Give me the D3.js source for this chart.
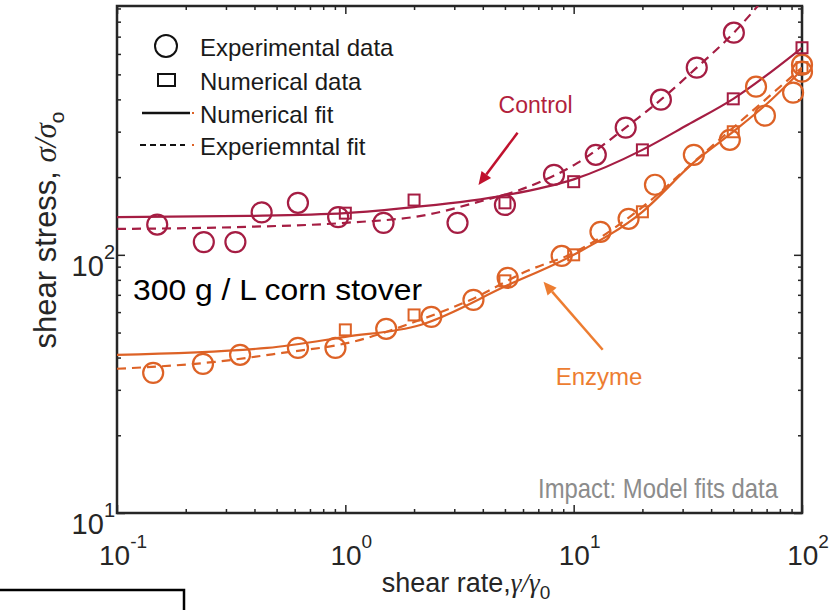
<!DOCTYPE html>
<html>
<head>
<meta charset="utf-8">
<script src="https://cdn.jsdelivr.net/npm/d3@7"></script>
<style>
  body { margin: 0; background: #fff; }
  text { font-family: "Liberation Sans", Arial, sans-serif; }
</style>
</head>
<body>
<svg id="chart" width="837" height="610"></svg>
<script>
// Control: experimental points, numerical points, and both fits
const controlExpRate = [0.15, 0.24, 0.33, 0.43, 0.62, 0.93, 1.47, 3.1, 5.0, 8.2, 12.5, 16.9, 24.1, 34.6, 50.3];
const controlExpStress = [131, 112, 112, 146, 159, 140, 133, 133, 156, 204, 244, 311, 399, 531, 725];
const controlNumRate = [1, 2, 5, 10, 20, 50, 100];
const controlNumStress = [145, 163, 159, 192, 255, 402, 634];
const controlNumFitRate = [0.1, 0.38, 1, 2, 5, 10, 20, 31.6, 50, 100];
const controlNumFitStress = [140, 141.5, 145, 153, 170, 196, 255, 319, 402, 634];
const controlExpFitRate = [0.1, 0.38, 1, 2.29, 3.79, 6.28, 10.4, 16.9, 24.1, 34.6, 50.3, 64.2];
const controlExpFitStress = [126, 128.4, 133, 143, 160, 183, 227, 311, 399, 531, 725, 923];

// Enzyme: experimental points, numerical points, and both fits
const enzymeExpRate = [0.144, 0.238, 0.346, 0.62, 0.905, 1.51, 2.38, 3.64, 5.14, 8.86, 13.1, 17.4, 22.7, 33.6, 48.3, 62.9, 68.8, 91.4, 100, 100];
const enzymeExpStress = [34.9, 37.8, 41.0, 43.6, 43.6, 51.7, 57.5, 66.9, 81.4, 99, 122.8, 137.9, 186.8, 244, 279, 448, 346, 425, 545, 512];
const enzymeNumRate = [1, 2, 5, 10, 20, 50, 100];
const enzymeNumStress = [51.2, 58.5, 79.3, 100, 146.8, 299.7, 531];
const enzymeNumFitRate = [0.1, 0.455, 1, 2.13, 5.1, 10, 20, 33.6, 50, 71, 100];
const enzymeNumFitStress = [41, 43.6, 48.1, 53.5, 76, 100, 146.8, 228, 300, 388, 521];
const enzymeExpFitRate = [0.1, 0.269, 0.529, 1.03, 2.13, 3.53, 6.28, 10, 20, 33.6, 50, 100];
const enzymeExpFitStress = [36.2, 38.5, 41.7, 45.6, 56, 66.9, 86.7, 101.8, 153, 229, 311, 531];

const xMajor = [0.1, 1, 10, 100];
const xMajorExp = ['-1', '0', '1', '2'];
const yMajor = [10, 100];
const yMajorExp = ['1', '2'];

const legendLabels = ['Experimental data', 'Numerical data', 'Numerical fit', 'Experiemntal fit'];

const controlColor = '#a51d43';
const enzymeColor = '#dd6226';

const margin = { top: 6, right: 35, bottom: 97, left: 117 };
const width = 837 - margin.left - margin.right;
const height = 610 - margin.top - margin.bottom;

const svg = d3.select('#chart');

const xScale = d3.scaleLog().domain([0.1, 100]).range([0, width]);
const yScale = d3.scaleLog().domain([10, 920]).range([height, 0]);

const zip = (a, b) => a.map((v, i) => [v, b[i]]);

const gSvg = svg.append('g')
  .attr('transform', `translate(${margin.left},${margin.top})`);

svg.append('defs').append('clipPath')
  .attr('id', 'plotClip')
  .append('rect')
  .attr('width', width)
  .attr('height', height);

// ticks: minor first, then major, on all four sides pointing inward
const minorX = xScale.ticks().filter(d => !xMajor.includes(d));
const minorY = yScale.ticks().filter(d => !yMajor.includes(d));

function addAxis(axis, transform) {
  const a = gSvg.append('g')
    .attr('transform', transform)
    .call(axis);
  a.select('.domain').remove();
  a.selectAll('text').remove();
  a.selectAll('line').attr('stroke', '#262626').attr('stroke-width', 1.5);
}

addAxis(d3.axisBottom(xScale).tickValues(minorX).tickSize(-4), `translate(0,${height})`);
addAxis(d3.axisBottom(xScale).tickValues(xMajor).tickSize(-8), `translate(0,${height})`);
addAxis(d3.axisTop(xScale).tickValues(minorX).tickSize(-4), 'translate(0,0)');
addAxis(d3.axisTop(xScale).tickValues(xMajor).tickSize(-8), 'translate(0,0)');
addAxis(d3.axisLeft(yScale).tickValues(minorY).tickSize(-4), 'translate(0,0)');
addAxis(d3.axisLeft(yScale).tickValues(yMajor).tickSize(-8), 'translate(0,0)');
addAxis(d3.axisRight(yScale).tickValues(minorY).tickSize(-4), `translate(${width},0)`);
addAxis(d3.axisRight(yScale).tickValues(yMajor).tickSize(-8), `translate(${width},0)`);

gSvg.append('rect')
  .attr('width', width)
  .attr('height', height)
  .attr('fill', 'none')
  .attr('stroke', '#262626')
  .attr('stroke-width', 2.5);

// tick labels with superscripts
const xLabels = gSvg.selectAll('.xlab')
  .data(xMajor)
  .join('text')
  .attr('class', 'xlab')
  .attr('x', d => xScale(d) + 6)
  .attr('y', height + 52)
  .attr('text-anchor', 'middle')
  .attr('font-size', 28)
  .attr('fill', '#262626');
xLabels.append('tspan').text('10');
xLabels.append('tspan')
  .attr('dy', -17)
  .attr('font-size', 19)
  .text((d, i) => xMajorExp[i]);

const yLabels = gSvg.selectAll('.ylab')
  .data(yMajor)
  .join('text')
  .attr('class', 'ylab')
  .attr('x', -2)
  .attr('y', d => yScale(d) + 21)
  .attr('text-anchor', 'end')
  .attr('font-size', 29)
  .attr('fill', '#262626');
yLabels.append('tspan').text('10');
yLabels.append('tspan')
  .attr('dy', -17)
  .attr('font-size', 20)
  .text((d, i) => yMajorExp[i]);

// axis titles
const xTitle = svg.append('text')
  .attr('x', 466)
  .attr('y', 592)
  .attr('text-anchor', 'middle')
  .attr('font-size', 27)
  .attr('fill', '#262626');
xTitle.append('tspan').text('shear rate,');
xTitle.append('tspan').attr('font-family', 'Liberation Serif').attr('font-style', 'italic').text('\u03b3/\u03b3');
xTitle.append('tspan').attr('font-size', 19).attr('dy', 7).text('0');

const yTitle = svg.append('text')
  .attr('transform', 'translate(56,230) rotate(-90)')
  .attr('text-anchor', 'middle')
  .attr('font-size', 31)
  .attr('fill', '#262626');
yTitle.append('tspan').text('shear stress, ');
yTitle.append('tspan').attr('font-family', 'Liberation Serif').attr('font-style', 'italic').text('\u03c3/\u03c3');
yTitle.append('tspan').attr('font-size', 21).attr('dy', 8).text('o');

// fits
const line = d3.line()
  .x(d => xScale(d[0]))
  .y(d => yScale(d[1]))
  .curve(d3.curveMonotoneX);

const plot = gSvg.append('g').attr('clip-path', 'url(#plotClip)');

const fits = [
  { data: zip(controlNumFitRate, controlNumFitStress), color: controlColor, dash: null },
  { data: zip(controlExpFitRate, controlExpFitStress), color: controlColor, dash: '9,6' },
  { data: zip(enzymeNumFitRate, enzymeNumFitStress), color: enzymeColor, dash: null },
  { data: zip(enzymeExpFitRate, enzymeExpFitStress), color: enzymeColor, dash: '9,6' }
];

plot.selectAll('.fit')
  .data(fits)
  .join('path')
  .attr('class', 'fit')
  .attr('d', d => line(d.data))
  .attr('fill', 'none')
  .attr('stroke', d => d.color)
  .attr('stroke-width', 2.2)
  .attr('stroke-dasharray', d => d.dash);

// markers
const circleSets = [
  { data: zip(controlExpRate, controlExpStress), color: controlColor },
  { data: zip(enzymeExpRate, enzymeExpStress), color: enzymeColor }
];
const squareSets = [
  { data: zip(controlNumRate, controlNumStress), color: controlColor },
  { data: zip(enzymeNumRate, enzymeNumStress), color: enzymeColor }
];

circleSets.forEach(s => {
  gSvg.append('g')
    .selectAll('circle')
    .data(s.data)
    .join('circle')
    .attr('cx', d => xScale(d[0]))
    .attr('cy', d => yScale(d[1]))
    .attr('r', 10)
    .attr('fill', 'none')
    .attr('stroke', s.color)
    .attr('stroke-width', 2.2);
});

squareSets.forEach(s => {
  gSvg.append('g')
    .selectAll('rect')
    .data(s.data)
    .join('rect')
    .attr('x', d => xScale(d[0]) - 5.5)
    .attr('y', d => yScale(d[1]) - 5.5)
    .attr('width', 11)
    .attr('height', 11)
    .attr('fill', 'none')
    .attr('stroke', s.color)
    .attr('stroke-width', 2);
});

// legend
const legend = gSvg.append('g');
const legendY = [40, 74, 107, 139];

legend.append('circle')
  .attr('cx', 49).attr('cy', legendY[0]).attr('r', 11)
  .attr('fill', 'none').attr('stroke', '#111').attr('stroke-width', 2);
legend.append('rect')
  .attr('x', 41).attr('y', legendY[1] - 6).attr('width', 17).attr('height', 12)
  .attr('fill', 'none').attr('stroke', '#111').attr('stroke-width', 2);
legend.append('line')
  .attr('x1', 25).attr('x2', 73).attr('y1', legendY[2]).attr('y2', legendY[2])
  .attr('stroke', '#111').attr('stroke-width', 2.5);
legend.append('line')
  .attr('x1', 23).attr('x2', 68).attr('y1', legendY[3]).attr('y2', legendY[3])
  .attr('stroke', '#111').attr('stroke-width', 1.8).attr('stroke-dasharray', '6,4');
legend.selectAll('.dot')
  .data([legendY[2], legendY[3]])
  .join('rect')
  .attr('class', 'dot')
  .attr('x', 75).attr('y', d => d - 1).attr('width', 2).attr('height', 2)
  .attr('fill', enzymeColor);

legend.selectAll('.legtext')
  .data(legendLabels)
  .join('text')
  .attr('class', 'legtext')
  .attr('x', 83)
  .attr('y', (d, i) => legendY[i] + 10)
  .attr('font-size', 24)
  .attr('fill', '#1a1a1a')
  .text(d => d);

// annotations placed in data space
function arrow(from, to, color) {
  const x1 = xScale(from[0]), y1 = yScale(from[1]);
  const x2 = xScale(to[0]), y2 = yScale(to[1]);
  const ang = Math.atan2(y2 - y1, x2 - x1);
  const hl = 13, hw = 6;
  const bx = x2 - hl * Math.cos(ang), by = y2 - hl * Math.sin(ang);
  gSvg.append('line')
    .attr('x1', x1).attr('y1', y1).attr('x2', bx).attr('y2', by)
    .attr('stroke', color).attr('stroke-width', 2.5);
  gSvg.append('path')
    .attr('d', `M${x2},${y2}L${bx + hw * Math.sin(ang)},${by - hw * Math.cos(ang)}L${bx - hw * Math.sin(ang)},${by + hw * Math.cos(ang)}Z`)
    .attr('fill', color);
}

arrow([5.68, 297], [3.83, 186.6], '#c0122e');
arrow([13.4, 42.9], [7.38, 78.6], '#ed7d31');

gSvg.append('text')
  .attr('x', xScale(4.69)).attr('y', yScale(355))
  .attr('font-family', 'Lato, "Open Sans", sans-serif')
  .attr('font-size', 23)
  .attr('fill', '#b21f3d')
  .text('Control');

gSvg.append('text')
  .attr('x', xScale(8.34)).attr('y', yScale(31.3))
  .attr('font-family', 'Lato, "Open Sans", sans-serif')
  .attr('font-size', 24)
  .attr('fill', '#ed7d31')
  .text('Enzyme');

gSvg.append('text')
  .attr('x', xScale(0.1175)).attr('y', yScale(66.9))
  .attr('font-size', 30)
  .attr('textLength', 289)
  .attr('lengthAdjust', 'spacingAndGlyphs')
  .attr('fill', '#000')
  .text('300 g / L corn stover');

gSvg.append('text')
  .attr('x', width - 264).attr('y', height - 15)
  .attr('font-size', 28)
  .attr('textLength', 240)
  .attr('lengthAdjust', 'spacingAndGlyphs')
  .attr('fill', '#8c8c8c')
  .text('Impact: Model fits data');

// partial box at bottom-left corner
svg.append('rect')
  .attr('x', -5).attr('y', 590)
  .attr('width', 189).attr('height', 60)
  .attr('fill', 'none')
  .attr('stroke', '#000')
  .attr('stroke-width', 2.5);
</script>
</body>
</html>
